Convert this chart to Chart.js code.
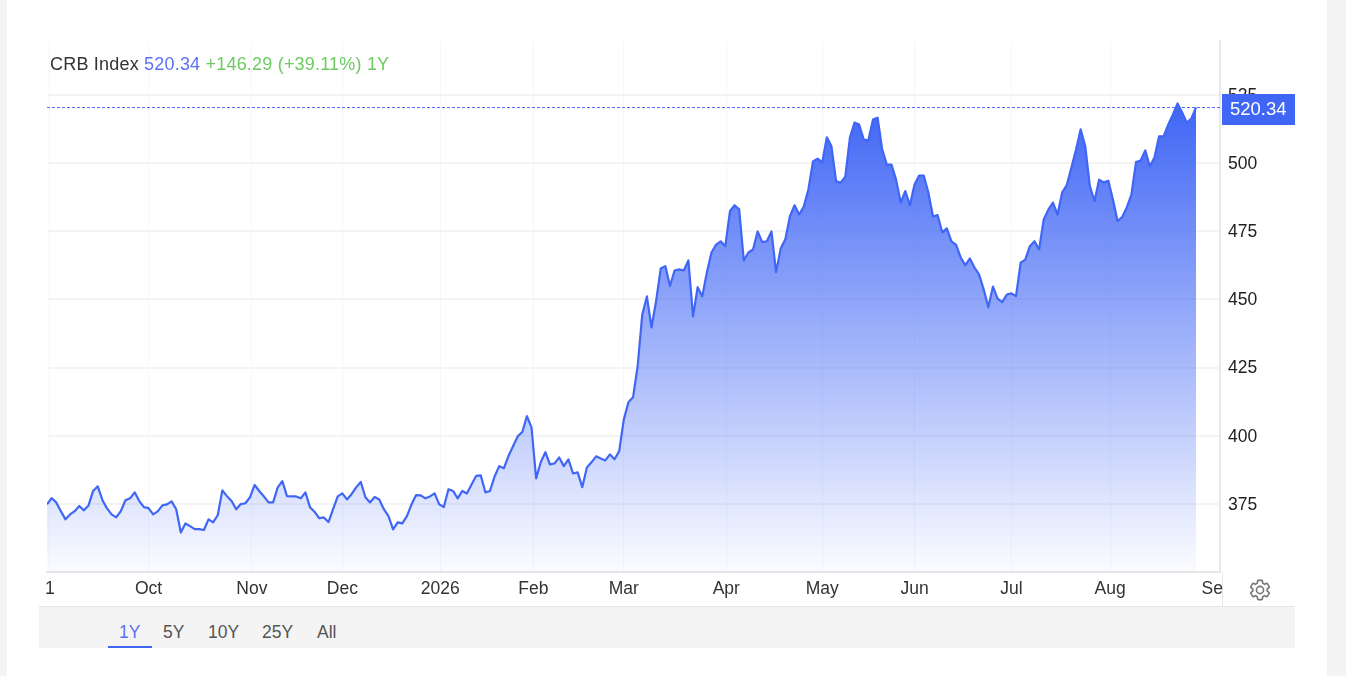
<!DOCTYPE html>
<html>
<head>
<meta charset="utf-8">
<title>CRB Index</title>
<script src="https://cdn.jsdelivr.net/npm/chart.js@4"></script>
<style>
    html, body { margin: 0; padding: 0; width: 1346px; height: 676px; overflow: hidden; background: #f4f4f4; font-family: "Liberation Sans", Arial, sans-serif; }
    #page { position: absolute; left: 0; top: 0; width: 1346px; height: 676px; filter: blur(0.45px); }
    #panel { position: absolute; left: 7px; top: 0; width: 1320px; height: 676px; background: #fff; }
    #chart { position: absolute; left: 0; top: 0; }
    #header { position: absolute; left: 50px; top: 54px; font-size: 18px; letter-spacing: 0.2px; line-height: 20px; color: #333; white-space: nowrap; }
    #header .price { color: #5a70f5; }
    #header .change { color: #6ccb5f; }
    #rangeBar { position: absolute; left: 39px; top: 606px; width: 1256px; height: 41px; background: #f4f4f4; border-top: 1px solid #e6e6e6; }
    #rangeBar span { position: absolute; top: 15px; font-size: 17.5px; line-height: 20px; color: #555; }
    #rangeBar span.active { color: #5a70f5; }
    #rangeLine { position: absolute; left: 69px; top: 39px; width: 44px; height: 2px; background: #4066f5; }
    #divider { position: absolute; left: 1222px; top: 572px; width: 1px; height: 34px; background: #e6e6e6; }
    #gear { position: absolute; left: 1248px; top: 578px; width: 24px; height: 24px; }
</style>
</head>
<body>
<div id="page">
<div id="panel"></div>
<div id="rangeBar">
    <span class="active" style="left:80px">1Y</span>
    <span style="left:124px">5Y</span>
    <span style="left:169px">10Y</span>
    <span style="left:223px">25Y</span>
    <span style="left:278px">All</span>
    <div id="rangeLine"></div>
</div>
<div id="divider"></div>
<canvas id="chart" width="1346" height="676"></canvas>
<div id="header">CRB Index <span class="price">520.34</span> <span class="change">+146.29 (+39.11%) 1Y</span></div>
<svg id="gear" viewBox="0 0 24 24"><path fill="none" stroke="#777" stroke-width="1.6" d="M19.14 12.94c.04-.3.06-.61.06-.94 0-.32-.02-.64-.07-.94l2.03-1.58c.18-.14.23-.41.12-.61l-1.92-3.32c-.12-.22-.37-.29-.59-.22l-2.39.96c-.5-.38-1.03-.7-1.62-.94l-.36-2.54c-.04-.24-.24-.41-.48-.41h-3.84c-.24 0-.43.17-.47.41l-.36 2.54c-.59.24-1.13.57-1.62.94l-2.39-.96c-.22-.08-.47 0-.59.22L2.74 8.87c-.12.21-.08.47.12.61l2.03 1.58c-.05.3-.09.63-.09.94s.02.64.07.94l-2.03 1.58c-.18.14-.23.41-.12.61l1.92 3.32c.12.22.37.29.59.22l2.39-.96c.5.38 1.03.7 1.62.94l.36 2.54c.05.24.24.41.48.41h3.84c.24 0 .44-.17.47-.41l.36-2.54c.59-.24 1.13-.56 1.62-.94l2.39.96c.22.08.47 0 .59-.22l1.92-3.32c.12-.22.07-.47-.12-.61l-2.01-1.58zM12 15.6c-1.98 0-3.6-1.62-3.6-3.6s1.62-3.6 3.6-3.6 3.6 1.62 3.6 3.6-1.62 3.6-3.6 3.6z"/></svg>
</div>
<script>
// one value per trading day
const prices = [
    374.9, 377.2, 375.6, 372.4, 369.4, 371.2, 372.4, 374.3, 372.7, 374.5,
    379.8, 381.5, 376.5, 373.4, 371.2, 370.1, 372.4, 376.4, 377.1, 379.3,
    376.1, 373.9, 373.5, 371.2, 372.3, 374.5, 374.9, 376.0, 373.1, 364.6,
    367.9, 366.9, 365.8, 365.8, 365.5, 369.4, 368.3, 370.9, 380.0, 377.9,
    376.1, 373.1, 375.0, 375.3, 377.5, 382.0, 379.8, 377.8, 375.6, 375.6,
    381.1, 383.4, 377.9, 377.8, 377.8, 377.1, 379.3, 373.8, 372.1, 369.8,
    370.1, 368.4, 373.1, 377.8, 378.9, 376.7, 378.6, 381.1, 383.1, 377.5,
    375.6, 377.6, 376.7, 373.1, 370.6, 365.7, 368.3, 367.9, 370.6, 374.9,
    378.3, 378.2, 377.1, 377.8, 378.9, 374.9, 373.9, 380.4, 379.8, 377.1,
    379.8, 378.9, 382.2, 385.3, 385.5, 379.3, 379.8, 385.1, 388.9, 388.1,
    392.6, 396.2, 399.8, 401.4, 407.2, 403.1, 384.4, 390.3, 394.0, 389.5,
    389.9, 392.1, 388.9, 391.4, 386.2, 386.6, 381.2, 388.4, 390.3, 392.5,
    391.7, 391.0, 393.2, 391.4, 394.4, 406.0, 412.3, 414.1, 425.5, 444.5,
    451.1, 439.7, 449.4, 461.3, 462.2, 454.9, 460.6, 461.0, 460.6, 464.3,
    443.8, 454.5, 451.1, 459.9, 467.2, 470.1, 471.3, 469.5, 482.3, 484.5,
    483.0, 464.3, 467.2, 468.3, 474.9, 471.0, 471.3, 474.9, 460.0, 468.7,
    472.0, 480.5, 484.5, 481.1, 484.0, 490.3, 500.6, 501.6, 500.2, 509.4,
    506.1, 493.3, 492.8, 495.0, 509.3, 514.8, 514.1, 508.6, 508.3, 515.9,
    516.6, 504.9, 499.4, 499.4, 493.9, 485.5, 489.7, 484.5, 492.1, 495.4,
    495.4, 489.2, 480.4, 480.9, 474.6, 476.0, 471.3, 470.1, 465.4, 462.5,
    465.0, 461.7, 459.1, 453.6, 447.1, 454.7, 450.3, 449.0, 451.8, 452.2,
    451.2, 463.5, 464.6, 469.5, 471.3, 468.3, 479.3, 482.9, 485.5, 481.1,
    489.2, 491.9, 498.3, 504.9, 512.3, 506.1, 491.5, 486.0, 493.9, 492.9,
    493.5, 486.6, 478.7, 480.2, 483.7, 488.4, 500.3, 500.9, 504.6, 498.8,
    502.0, 509.8, 509.8, 514.1, 517.8, 521.8, 518.5, 514.8, 516.3, 520.34
];
const monthLabels = ["1", "Oct", "Nov", "Dec", "2026", "Feb", "Mar", "Apr", "May", "Jun", "Jul", "Aug", "Se"];
const monthTicks = [0.6, 22, 44.4, 64, 85.2, 105.4, 125, 147.2, 168, 188, 209, 230.4, 252.5];
const priceTicks = [375, 400, 425, 450, 475, 500, 525];

document.addEventListener("DOMContentLoaded", function () {
    const ctx = document.getElementById("chart").getContext("2d");
    const lastPrice = prices[prices.length - 1];

    // dashed line at the last price and the blue price box on the axis
    const lastPricePlugin = {
        id: "lastPrice",
        afterDraw: function (chart) {
            const c = chart.ctx;
            const area = chart.chartArea;
            const y = chart.scales.y.getPixelForValue(lastPrice);
            c.save();
            c.strokeStyle = "#4f70ff";
            c.lineWidth = 1;
            c.setLineDash([3, 2]);
            c.beginPath();
            c.moveTo(area.left, Math.round(y) + 0.5);
            c.lineTo(area.right + 2, Math.round(y) + 0.5);
            c.stroke();
            c.fillStyle = "#4066f5";
            c.fillRect(area.right + 2, 94, 73, 31);
            c.fillStyle = "#fff";
            c.font = "18.5px 'Liberation Sans', Arial, sans-serif";
            c.textBaseline = "middle";
            c.fillText(lastPrice.toFixed(2), area.right + 10, 110);
            c.restore();
        }
    };

    new Chart(ctx, {
        type: "line",
        data: {
            datasets: [{
                data: prices.map(function (p, i) { return { x: i, y: p }; }),
                borderColor: "#4066f5",
                borderWidth: 2.2,
                borderJoinStyle: "round",
                pointRadius: 0,
                tension: 0,
                fill: "start",
                backgroundColor: function (context) {
                    const area = context.chart.chartArea;
                    if (!area) return "transparent";
                    const g = context.chart.ctx.createLinearGradient(0, 105, 0, area.bottom);
                    g.addColorStop(0, "rgba(64,102,245,1)");
                    g.addColorStop(1, "rgba(64,102,245,0.02)");
                    return g;
                }
            }]
        },
        options: {
            responsive: false,
            animation: false,
            layout: { padding: { left: 47, top: 41, right: 26, bottom: 0 } },
            plugins: { legend: { display: false }, tooltip: { enabled: false } },
            scales: {
                x: {
                    type: "linear",
                    min: 0,
                    max: 254.2,
                    afterBuildTicks: function (scale) {
                        scale.ticks = monthTicks.map(function (v) { return { value: v }; });
                    },
                    afterFit: function (scale) { scale.height = 104; },
                    grid: {
                        drawTicks: false,
                        color: function (context) {
                            return context.tick && context.tick.value === 252.5 ? "transparent" : "#f3f6fa";
                        }
                    },
                    border: { color: "#e6e6e6", width: 2 },
                    ticks: {
                        autoSkip: false,
                        maxRotation: 0,
                        padding: 7,
                        color: "#333",
                        font: { family: "'Liberation Sans', Arial, sans-serif", size: 17.5 },
                        callback: function (value, index) { return monthLabels[index]; }
                    }
                },
                y: {
                    position: "right",
                    min: 350.1,
                    max: 544.7,
                    afterBuildTicks: function (scale) {
                        scale.ticks = priceTicks.map(function (v) { return { value: v }; });
                    },
                    afterFit: function (scale) { scale.width = 100; },
                    grid: { drawTicks: false, color: "#f4f4f4", lineWidth: 2 },
                    border: { color: "#e8e8e8", width: 2 },
                    ticks: {
                        padding: 8,
                        labelOffset: 1,
                        color: "#222",
                        font: { family: "'Liberation Sans', Arial, sans-serif", size: 17.5 }
                    }
                }
            }
        },
        plugins: [lastPricePlugin]
    });
});
</script>
</body>
</html>
